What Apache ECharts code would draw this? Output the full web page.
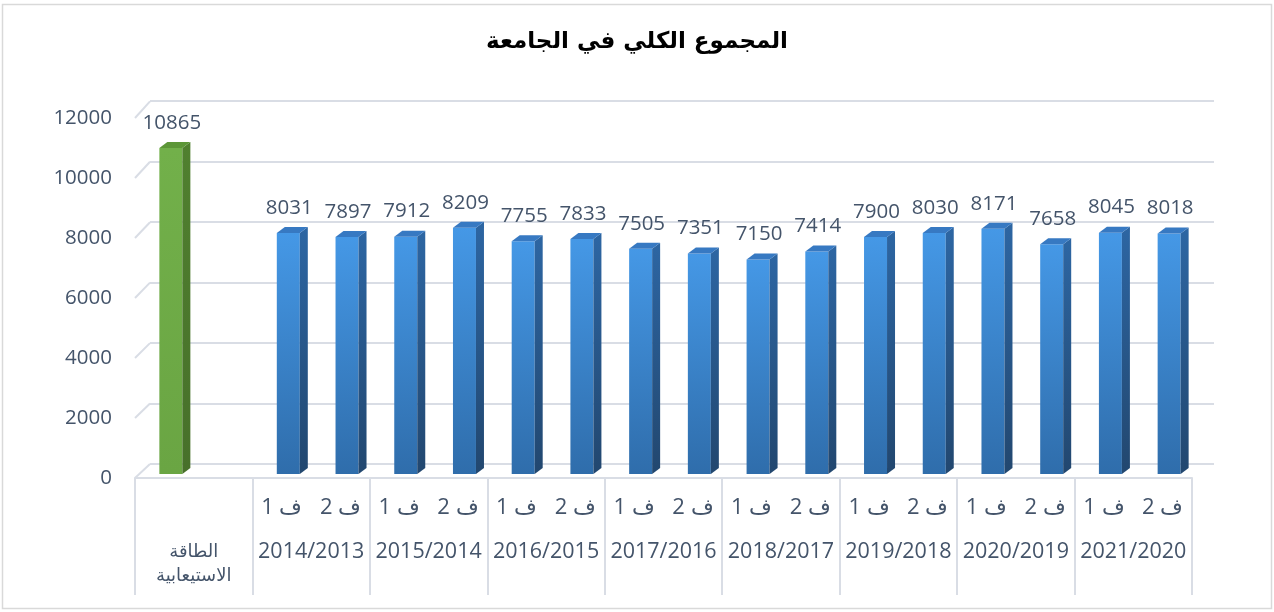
<!DOCTYPE html>
<html>
<head>
<meta charset="utf-8">
<script src="https://cdn.jsdelivr.net/npm/echarts@6/dist/echarts.min.js"></script>
<style>
  html, body { margin: 0; padding: 0; background: #fff; }
  #main { width: 1274px; height: 612px; }
</style>
</head>
<body>
<div id="main"></div>
<script>
  var chartTitle = 'المجموع الكلي في الجامعة';
  var capacityLabel = 'الطاقة\nالاستيعابية';
  var capacityValue = 10865;
  var years = ['2014/2013', '2015/2014', '2016/2015', '2017/2016', '2018/2017', '2019/2018', '2020/2019', '2021/2020'];
  var semesterLabels = ['ف 1', 'ف 2'];
  var sem1 = [8031, 7912, 7755, 7505, 7150, 7900, 8171, 8045];
  var sem2 = [7897, 8209, 7833, 7351, 7414, 8030, 7658, 8018];
  var yTicks = [0, 2000, 4000, 6000, 8000, 10000, 12000];

  // leaf categories: capacity + one blank slot, then two semesters per year
  var leafLabels = ['', ''];
  var barData = [[0, capacityValue]];
  for (var i = 0; i < years.length; i++) {
    leafLabels.push(semesterLabels[0], semesterLabels[1]);
    barData.push([2 + i * 2, sem1[i]]);
    barData.push([3 + i * 2, sem2[i]]);
  }
  var groupLabels = ['{cap|' + capacityLabel + '}'].concat(years);

  var textColor = '#44546a';
  var gridColor = '#d9dde5';

  function grad(c1, c2) {
    return { type: 'linear', x: 0, y: 0, x2: 0, y2: 1, colorStops: [{ offset: 0, color: c1 }, { offset: 1, color: c2 }] };
  }

  var palette = {
    blue: { front: grad('#4598e6', '#2f6dab'), side: grad('#2d66a3', '#22476f'), top: '#3779c2' },
    green: { front: grad('#72b04a', '#6aa543'), side: grad('#50802f', '#47702a'), top: '#5c9637' }
  };

  function renderBar(params, api) {
    var idx = api.value(0);
    var val = api.value(1);
    var topPt = api.coord([idx, val]);
    var basePt = api.coord([idx, 0]);
    var sx = 6.5, sy = -4;      // bar plane sits a little behind the front plane
    var w = 23, dx = 8, dy = -6; // face width and depth of each bar
    var x0 = topPt[0] + sx - w / 2;
    var x1 = x0 + w;
    var yT = topPt[1] + sy;
    var yB = basePt[1] + sy;
    var c = idx === 0 ? palette.green : palette.blue;
    return {
      type: 'group',
      children: [
        { type: 'rect', shape: { x: x0, y: yT, width: w, height: yB - yT }, style: { fill: c.front } },
        { type: 'polygon', shape: { points: [[x1, yT], [x1 + dx, yT + dy], [x1 + dx, yB + dy], [x1, yB]] }, style: { fill: c.side } },
        { type: 'polygon', shape: { points: [[x0, yT], [x1, yT], [x1 + dx, yT + dy], [x0 + dx, yT + dy]] }, style: { fill: c.top } },
        {
          type: 'text',
          style: {
            x: x0 + w / 2 + 1, y: yT - 25, text: String(val),
            fill: textColor, font: '20.5px "Open Sans"', align: 'center', verticalAlign: 'middle'
          }
        }
      ]
    };
  }

  function renderConnector(params, api) {
    var p = api.coord([0, api.value(1)]);
    var cx = params.coordSys.x;
    var base = params.coordSys.y + params.coordSys.height;
    return {
      type: 'line',
      shape: { x1: cx, y1: p[1], x2: cx + 15, y2: p[1] - 14 - (base - p[1]) * 0.0075 },
      style: { stroke: gridColor, lineWidth: 2 }
    };
  }

  var chart = echarts.init(document.getElementById('main'), null, { renderer: 'canvas' });

  var option = {
    animation: false,
    backgroundColor: '#fff',
    title: {
      text: chartTitle,
      left: 'center',
      top: 26,
      textStyle: { fontFamily: 'DejaVu Sans', fontSize: 23, fontWeight: 'bold', color: '#000' }
    },
    graphic: [{
      type: 'rect',
      shape: { x: 2.5, y: 4.5, width: 1269, height: 604 },
      style: { fill: 'none', stroke: '#d9d9d9', lineWidth: 1.5 },
      silent: true
    }],
    grid: [
      { left: 135, right: 82, top: 118, bottom: 134 },
      { left: 150, right: 60, top: 101, bottom: 148 }
    ],
    xAxis: [
      {
        type: 'category', gridIndex: 0, data: leafLabels,
        axisLine: { show: true, lineStyle: { color: gridColor, width: 2 } },
        axisTick: { show: false },
        axisLabel: {
          interval: 0, margin: 30, verticalAlign: 'middle',
          fontFamily: 'Open Sans', fontSize: 22, color: textColor
        },
        z: 3
      },
      {
        type: 'category', gridIndex: 0, data: groupLabels, position: 'bottom',
        axisLine: { show: false },
        axisTick: { show: true, length: 117, interval: 0, lineStyle: { color: gridColor, width: 2 } },
        axisLabel: {
          interval: 0, margin: 62, verticalAlign: 'top', lineHeight: 24,
          fontFamily: 'Open Sans', fontSize: 21.5, color: textColor,
          rich: { cap: { fontFamily: 'DejaVu Sans', fontSize: 18, lineHeight: 24, color: textColor } }
        }
      },
      {
        type: 'value', gridIndex: 1, min: 0, max: 1, show: false
      }
    ],
    yAxis: [
      {
        type: 'value', gridIndex: 0, min: 0, max: 12000, interval: 2000,
        axisLine: { show: false }, axisTick: { show: false }, splitLine: { show: false },
        axisLabel: {
          margin: 23, fontFamily: 'Open Sans', fontSize: 20.5, color: textColor,
          formatter: function (v) { return String(v); }
        }
      },
      {
        type: 'value', gridIndex: 1, min: 0, max: 12000, interval: 2000,
        axisLine: { show: false }, axisTick: { show: false }, axisLabel: { show: false },
        splitLine: { show: true, lineStyle: { color: gridColor, width: 2 } }
      }
    ],
    series: [
      {
        type: 'custom', xAxisIndex: 0, yAxisIndex: 0,
        renderItem: renderConnector,
        data: yTicks.map(function (v) { return [0, v]; }),
        encode: { x: 0, y: 1 }, silent: true, z: 1
      },
      {
        type: 'custom', xAxisIndex: 0, yAxisIndex: 0,
        renderItem: renderBar,
        data: barData,
        encode: { x: 0, y: 1 }, z: 5
      }
    ]
  };

  chart.setOption(option);
</script>
</body>
</html>
